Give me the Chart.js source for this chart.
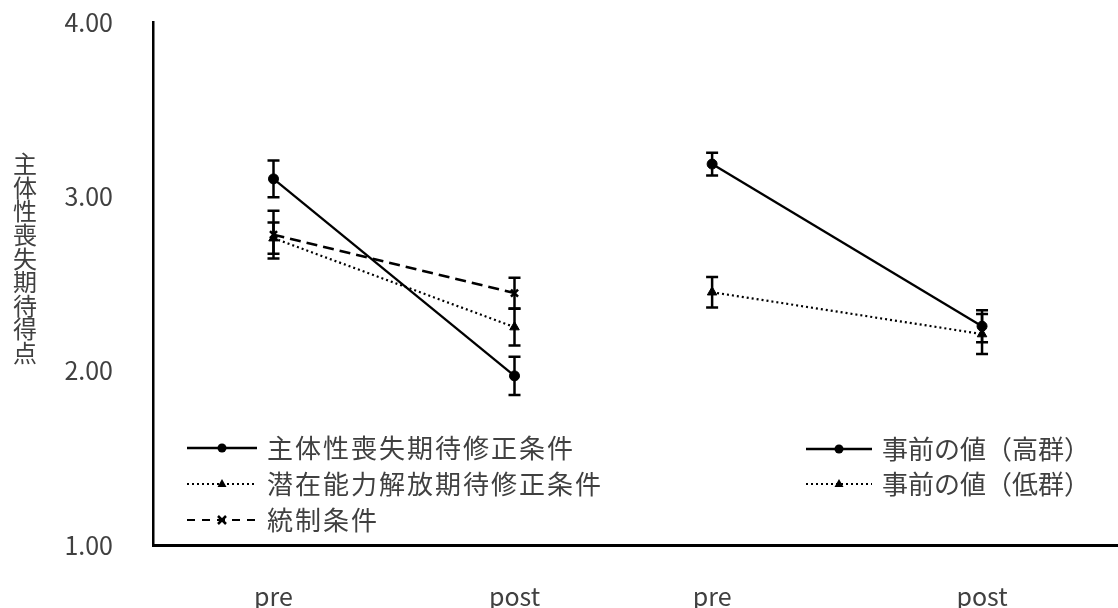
<!DOCTYPE html>
<html lang="ja">
<head>
    <meta charset="UTF-8">
    <title>主体性喪失期待得点</title>
    <style>
        html, body { margin: 0; padding: 0; background: #fff; }
        #wrap { width: 1118px; height: 608px; }
    </style>
</head>
<body>
    <div id="wrap"><canvas id="chart" width="1118" height="608"></canvas></div>

    <script src="https://cdn.jsdelivr.net/npm/chart.js"></script>
    <script>
        // x categories (two panels: left = conditions, right = pre score groups)
        const xLabels = ['pre', 'post', 'pre', 'post'];
        const xPositions = [0.5, 1.5, 2.32, 3.44];
        const yTicks = [1, 2, 3, 4];

        // left panel
        const agencyMean = [3.10, 1.97];
        const agencyErr = [0.105, 0.11];
        const potentialMean = [2.76, 2.25];
        const potentialErr = [0.09, 0.105];
        const controlMean = [2.78, 2.445];
        const controlErr = [0.137, 0.088];

        // right panel
        const highMean = [3.185, 2.255];
        const highErr = [0.065, 0.092];
        const lowMean = [2.45, 2.21];
        const lowErr = [0.088, 0.115];

        const FONT = '"Noto Sans CJK JP", "Noto Sans", sans-serif';
        const TEXT = '#404040';

        function pts(xs, ys) {
            return ys.map((y, i) => ({ x: xs[i], y: y }));
        }

        function series(label, xs, mean, err, style, legendGroup) {
            return {
                label: label,
                data: pts(xs, mean),
                errors: err,
                legendGroup: legendGroup,
                showLine: true,
                borderColor: '#000',
                backgroundColor: '#000',
                borderWidth: style.width,
                borderDash: style.dash,
                pointStyle: style.point,
                pointRadius: style.radius,
                pointBorderWidth: style.point === 'crossRot' ? 2.5 : 1,
                pointBorderColor: '#000',
                pointBackgroundColor: '#000'
            };
        }

        const solid = { dash: [], point: 'circle', radius: 5, width: 2.3 };
        const dotted = { dash: [2, 3], point: 'triangle', radius: 5.5, width: 2.2 };
        const dashed = { dash: [11, 6], point: 'crossRot', radius: 5, width: 2.5 };

        const leftX = xPositions.slice(0, 2);
        const rightX = xPositions.slice(2, 4);

        const datasets = [
            series('主体性喪失期待修正条件', leftX, agencyMean, agencyErr, solid, 0),
            series('潜在能力解放期待修正条件', leftX, potentialMean, potentialErr, dotted, 0),
            series('統制条件', leftX, controlMean, controlErr, dashed, 0),
            series('事前の値（高群）', rightX, highMean, highErr, solid, 1),
            series('事前の値（低群）', rightX, lowMean, lowErr, dotted, 1)
        ];

        // error bars
        const errorBars = {
            id: 'errorBars',
            afterDatasetsDraw(chart) {
                const ctx = chart.ctx;
                const xs = chart.scales.x, ys = chart.scales.y;
                ctx.save();
                ctx.strokeStyle = '#000';
                ctx.lineWidth = 2.5;
                ctx.setLineDash([]);
                chart.data.datasets.forEach(ds => {
                    ds.data.forEach((p, i) => {
                        const e = ds.errors[i];
                        const px = xs.getPixelForValue(p.x);
                        const top = ys.getPixelForValue(p.y + e);
                        const bot = ys.getPixelForValue(p.y - e);
                        ctx.beginPath();
                        ctx.moveTo(px, top); ctx.lineTo(px, bot);
                        ctx.moveTo(px - 6, top); ctx.lineTo(px + 6, top);
                        ctx.moveTo(px - 6, bot); ctx.lineTo(px + 6, bot);
                        ctx.stroke();
                    });
                });
                ctx.restore();
            }
        };

        function drawMarker(ctx, style, x, y) {
            ctx.beginPath();
            if (style === 'circle') {
                ctx.arc(x, y, 4.5, 0, Math.PI * 2);
                ctx.fill();
            } else if (style === 'triangle') {
                ctx.moveTo(x, y - 5);
                ctx.lineTo(x + 4.5, y + 3);
                ctx.lineTo(x - 4.5, y + 3);
                ctx.closePath();
                ctx.fill();
            } else {
                ctx.lineWidth = 2.5;
                ctx.moveTo(x - 4, y - 4); ctx.lineTo(x + 4, y + 4);
                ctx.moveTo(x + 4, y - 4); ctx.lineTo(x - 4, y + 4);
                ctx.stroke();
            }
        }

        // two separate legends + upright y title
        const annotations = {
            id: 'annotations',
            afterDraw(chart) {
                const ctx = chart.ctx;
                const groups = [
                    { x0: 187, x1: 257, tx: 267, y0: 448, step: 36, spacing: '2px' },
                    { x0: 806, x1: 872, tx: 882, y0: 449, step: 35, spacing: '0px' }
                ];
                const rows = [0, 0];
                ctx.save();
                chart.data.datasets.forEach(ds => {
                    const g = groups[ds.legendGroup];
                    const y = g.y0 + rows[ds.legendGroup] * g.step;
                    rows[ds.legendGroup]++;
                    ctx.strokeStyle = '#000';
                    ctx.fillStyle = '#000';
                    ctx.lineWidth = ds.borderDash.length ? 1.8 : 2.5;
                    ctx.setLineDash(ds.borderDash.length === 2 && ds.borderDash[0] > 5 ? [8, 7] : ds.borderDash);
                    ctx.beginPath();
                    ctx.moveTo(g.x0, y); ctx.lineTo(g.x1, y);
                    ctx.stroke();
                    ctx.setLineDash([]);
                    drawMarker(ctx, ds.pointStyle, (g.x0 + g.x1) / 2, y);
                    ctx.fillStyle = TEXT;
                    ctx.font = '26px ' + FONT;
                    ctx.letterSpacing = g.spacing;
                    ctx.textAlign = 'left';
                    ctx.textBaseline = 'middle';
                    ctx.fillText(ds.label, g.tx, y);
                });
                ctx.letterSpacing = '0px';
                const title = '主体性喪失期待得点';
                ctx.fillStyle = TEXT;
                ctx.font = '24px ' + FONT;
                ctx.textAlign = 'center';
                ctx.textBaseline = 'middle';
                Array.from(title).forEach((ch, i) => {
                    ctx.fillText(ch, 25, 164 + i * 23.6);
                });
                ctx.restore();
            }
        };

        new Chart(document.getElementById('chart'), {
            type: 'scatter',
            data: { datasets: datasets },
            options: {
                responsive: false,
                animation: false,
                layout: {
                    autoPadding: false,
                    padding: { top: 22, right: 1, left: 0, bottom: 0 }
                },
                plugins: {
                    legend: { display: false },
                    tooltip: { enabled: false }
                },
                scales: {
                    x: {
                        type: 'linear',
                        min: 0,
                        max: 4,
                        afterBuildTicks: scale => {
                            scale.ticks = xPositions.map(v => ({ value: v }));
                        },
                        afterFit: scale => {
                            scale.height = 63;
                            scale.paddingLeft = 0;
                            scale.paddingRight = 0;
                        },
                        grid: { display: false, drawTicks: false },
                        border: { display: true, color: '#000', width: 3 },
                        ticks: {
                            autoSkip: false,
                            maxRotation: 0,
                            padding: 36,
                            color: TEXT,
                            font: { family: FONT, size: 25 },
                            callback: (v, i) => xLabels[i]
                        }
                    },
                    y: {
                        min: 1,
                        max: 4,
                        afterBuildTicks: scale => {
                            scale.ticks = yTicks.map(v => ({ value: v }));
                        },
                        afterFit: scale => {
                            scale.width = 153;
                            scale.paddingTop = 0;
                            scale.paddingBottom = 0;
                        },
                        grid: { display: false, drawTicks: false },
                        border: { display: true, color: '#000', width: 2.5 },
                        ticks: {
                            padding: 40,
                            color: TEXT,
                            font: { family: FONT, size: 25 },
                            callback: v => v.toFixed(2)
                        }
                    }
                }
            },
            plugins: [errorBars, annotations]
        });
    </script>
</body>
</html>
